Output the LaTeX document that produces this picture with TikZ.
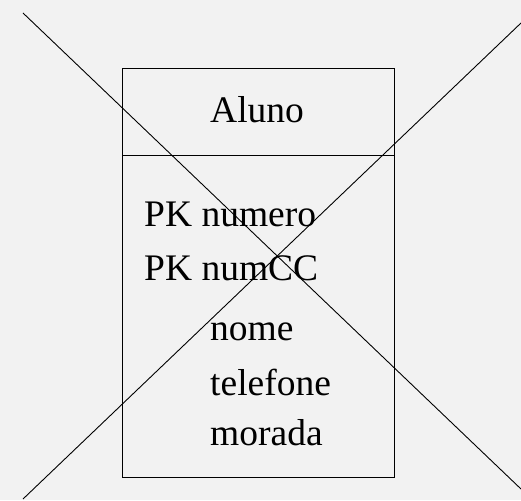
\documentclass[tikz,border=0pt]{standalone}
\usepackage{fontspec}
\setmainfont{Liberation Serif}
\begin{document}
\begin{tikzpicture}[x=1pt,y=-1pt,
  field/.style={anchor=base west,inner sep=0pt,font=\fontsize{37.5}{45}\selectfont},
  thin line/.style={line width=0.9pt,black}]
  % canvas
  \fill[fill={rgb,255:red,242;green,242;blue,242}] (0,0) rectangle (521,500);
  \useasboundingbox (0,0) rectangle (521,500);
  % entity box
  \coordinate (boxTL) at (122,68);
  \coordinate (boxBR) at (394,477);
  \coordinate (sepL) at (122,155);
  \coordinate (sepR) at (394,155);
  \draw[thin line] (boxTL) rectangle (boxBR);
  \draw[thin line] (sepL) -- (sepR);
  % title and attributes
  \node[field] (title) at (210,122.5) {Aluno};
  \node[field] (pk1) at (144,226) {PK numero};
  \node[field] (pk2) at (144,280) {PK numCC};
  \node[field] (a1) at (210,340.5) {nome};
  \node[field] (a2) at (210,395) {telefone};
  \node[field] (a3) at (210,445) {morada};
  % crossing diagonals
  \coordinate (d1s) at (23,13);
  \coordinate (d1e) at (521,489);
  \coordinate (d2s) at (521,23);
  \coordinate (d2e) at (23,499);
  \draw[thin line] (d1s) -- (d1e);
  \draw[thin line] (d2s) -- (d2e);
\end{tikzpicture}
\end{document}
